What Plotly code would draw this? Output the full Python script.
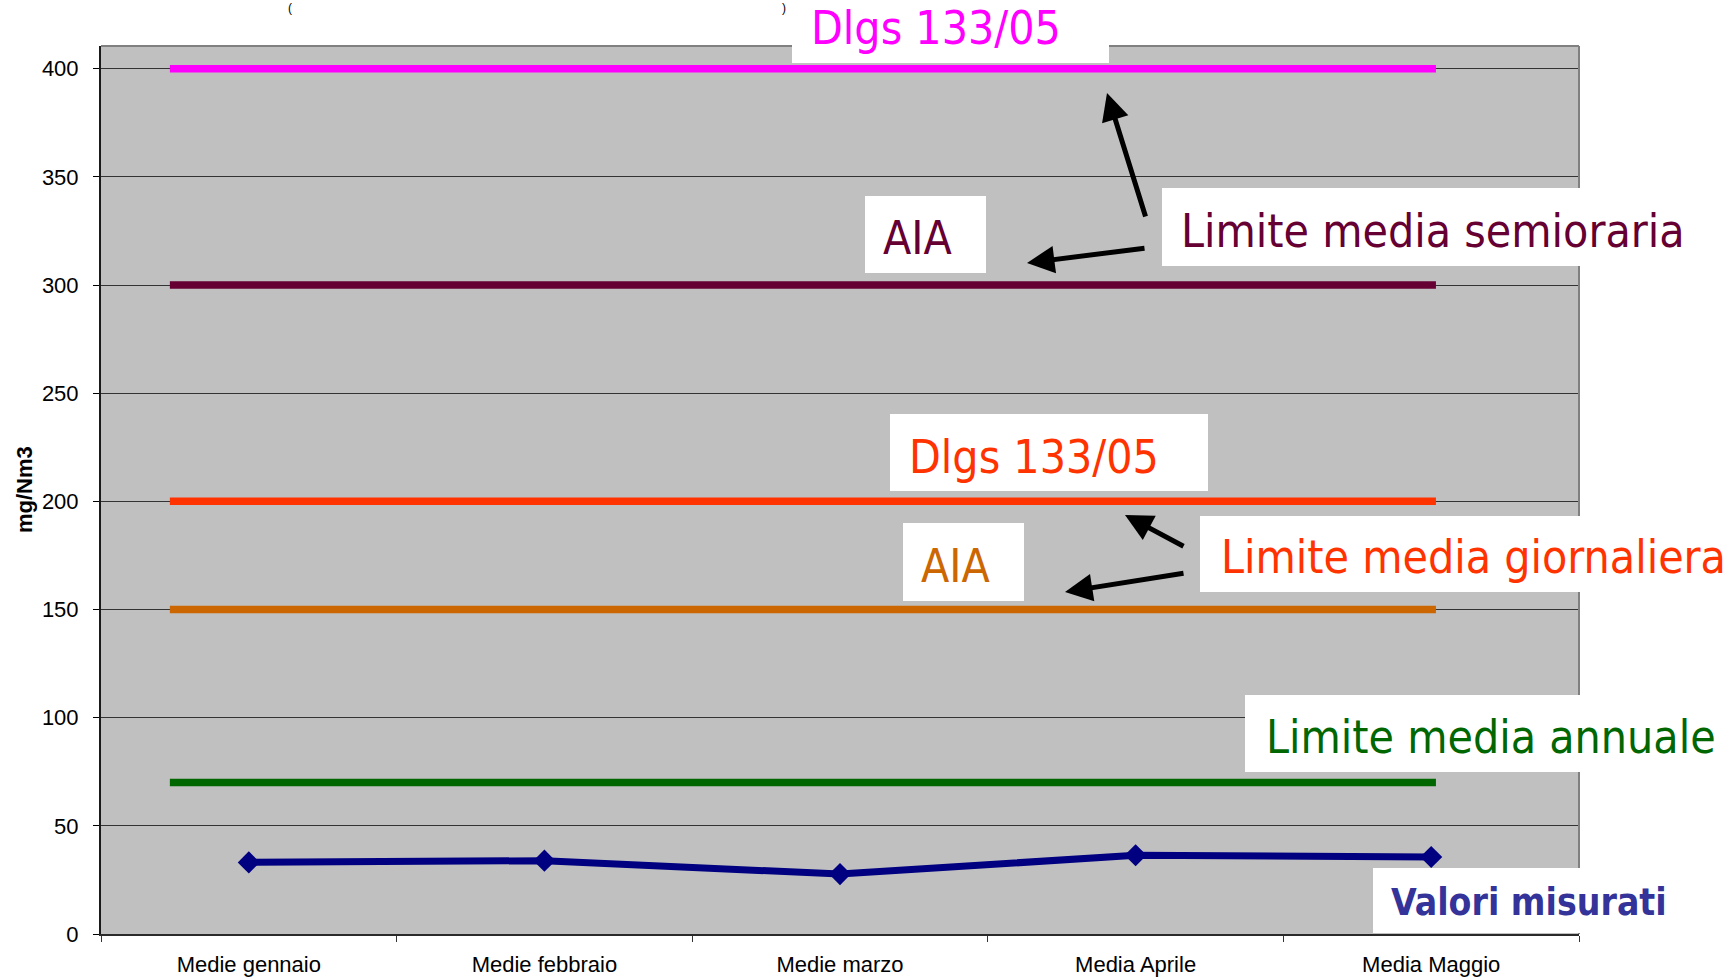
import plotly.graph_objects as go

# Monthly averages (mg/Nm3)
months = ["Medie gennaio", "Medie febbraio", "Medie marzo", "Media Aprile", "Media Maggio"]
measured = [33.1, 33.9, 27.7, 36.4, 35.6]

# Regulatory limits (mg/Nm3)
limit_names = ["Dlgs 133/05 semioraria", "AIA semioraria", "Dlgs 133/05 giornaliera",
               "AIA giornaliera", "Limite media annuale"]
limit_values = [400, 300, 200, 150, 70]
limit_colors = ["#FF00FF", "#660033", "#FF3300", "#CC6600", "#006600"]

y_ticks = [0, 50, 100, 150, 200, 250, 300, 350, 400]

W, H = 1733, 980
PL, PR, PT, PB = 101, 1579, 46, 934
Y_MAX = 410.5


def px(x):
    return (x - PL) / (PR - PL)


def py(y):
    return (PB - y) / (PB - PT)


LABEL_FONT = "DejaVu Sans Condensed, DejaVu Sans, sans-serif"
AXIS_FONT = "Liberation Sans, Arial, sans-serif"

fig = go.Figure()

fig.add_trace(go.Scatter(
    x=months, y=measured, mode="lines+markers",
    line=dict(color="#000080", width=7),
    marker=dict(symbol="diamond", size=17, color="#000080"),
    showlegend=False, hoverinfo="x+y",
))

shapes = []
# horizontal limit lines
for val, col in zip(limit_values, limit_colors):
    shapes.append(dict(type="line", xref="x", yref="y", x0=-0.267, x1=4.016,
                       y0=val, y1=val, line=dict(color=col, width=7.5), layer="above"))

# top and right frame of the plot area
shapes.append(dict(type="line", xref="paper", yref="paper", x0=0, x1=1, y0=1, y1=1,
                   line=dict(color="#808080", width=2), layer="above"))
shapes.append(dict(type="line", xref="paper", yref="paper", x0=1, x1=1, y0=0, y1=1,
                   line=dict(color="#808080", width=2), layer="above"))

# white label boxes (pixel extents)
boxes = [
    (792, -10, 1109, 63),
    (865, 196, 986, 273),
    (1162, 188, 1733, 266),
    (890, 414, 1208, 491),
    (1200, 516, 1733, 592),
    (903, 523, 1024, 601),
    (1245, 695, 1733, 772),
    (1373, 868, 1733, 933),
]
for x0, y0, x1, y1 in boxes:
    shapes.append(dict(type="rect", xref="paper", yref="paper",
                       x0=px(x0), x1=px(x1), y0=py(y1), y1=py(y0),
                       fillcolor="white", line=dict(width=0), layer="above"))

annotations = []
# label texts: (text, colour, left px, centre px, size, bold)
labels = [
    ("Dlgs 133/05", limit_colors[0], 810, 28, 46, False),
    ("AIA", limit_colors[1], 882, 238, 46, False),
    ("Limite media semioraria", limit_colors[1], 1180, 231, 46, False),
    ("Dlgs 133/05", limit_colors[2], 908, 457, 46, False),
    ("Limite media giornaliera", limit_colors[2], 1220, 557, 46, False),
    ("AIA", limit_colors[3], 920, 566, 46, False),
    ("Limite media annuale", limit_colors[4], 1265, 737, 46, False),
    ("Valori misurati", "#333399", 1390, 902, 37, True),
]
for txt, col, lx, cy, size, bold in labels:
    annotations.append(dict(
        text=f"<b>{txt}</b>" if bold else txt, xref="paper", yref="paper",
        x=px(lx), y=py(cy), xanchor="left", yanchor="middle", showarrow=False,
        font=dict(family=LABEL_FONT, size=size, color=col), borderpad=0,
    ))

# arrows: (head x, head y, tail x, tail y) in pixels
arrows = [
    (1107, 93, 1146, 218),
    (1027, 263, 1146, 248),
    (1125, 515, 1185, 547),
    (1065, 592, 1185, 573),
]
for hx, hy, tx, ty in arrows:
    annotations.append(dict(
        text="", xref="paper", yref="paper", x=px(hx), y=py(hy),
        ax=tx - hx, ay=ty - hy, showarrow=True, arrowhead=2, arrowsize=1.1,
        arrowwidth=5, arrowcolor="black", standoff=0,
    ))

# y-axis title
annotations.append(dict(
    text="<b>mg/Nm3</b>", xref="paper", yref="paper", x=px(24), y=0.5,
    xanchor="center", yanchor="middle", textangle=-90, showarrow=False,
    font=dict(family=AXIS_FONT, size=22, color="black"),
))

# parentheses of the heading along the top edge
for ch, cx in [("(", 290), (")", 784)]:
    annotations.append(dict(
        text=ch, xref="paper", yref="paper", x=px(cx), y=py(0),
        xanchor="center", yanchor="top", showarrow=False, borderpad=0,
        font=dict(family=AXIS_FONT, size=12, color="black"),
    ))

fig.update_layout(
    width=W, height=H,
    margin=dict(l=PL, r=W - PR, t=PT, b=H - PB, pad=0, autoexpand=False),
    paper_bgcolor="white", plot_bgcolor="#C0C0C0",
    showlegend=False,
    shapes=shapes, annotations=annotations,
    xaxis=dict(
        type="category", range=[-0.5, 4.5], tickson="boundaries", automargin=False,
        showgrid=False, ticks="outside", ticklen=6, tickwidth=1, tickcolor="#333333",
        showline=True, linecolor="#2a2a2a", linewidth=2,
        tickfont=dict(family=AXIS_FONT, size=22, color="black"),
        ticklabelstandoff=10, zeroline=False,
    ),
    yaxis=dict(
        range=[0, Y_MAX], tickvals=y_ticks, showgrid=True, gridcolor="#333333",
        gridwidth=1, ticks="outside", ticklen=6, tickwidth=1, tickcolor="black",
        showline=True, linecolor="#1a1a1a", linewidth=2, zeroline=False, automargin=False,
        tickfont=dict(family=AXIS_FONT, size=22, color="black"),
        ticklabelstandoff=10,
    ),
)

fig.write_html("out.html")
